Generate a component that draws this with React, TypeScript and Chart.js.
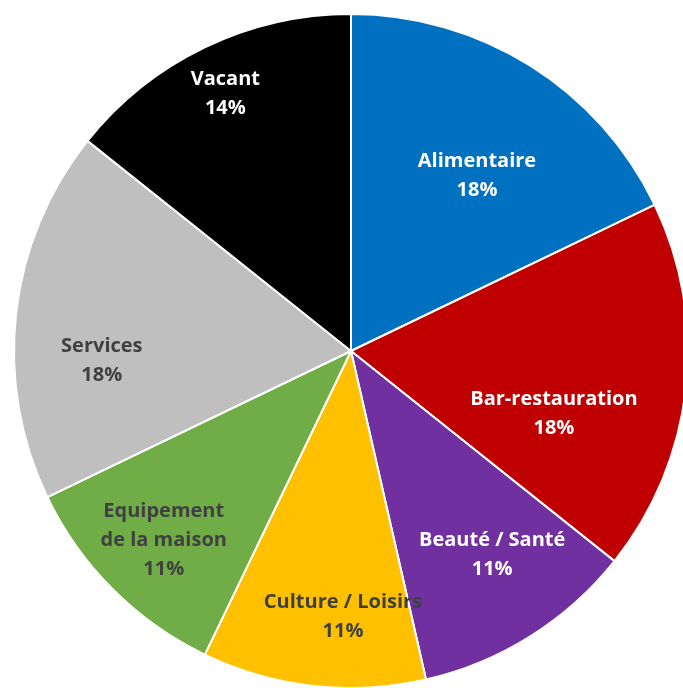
import React, { useEffect, useRef } from "react";
import { Chart, registerables } from "chart.js";

Chart.register(...registerables);

const categories: string[][] = [
  ["Alimentaire"],
  ["Bar-restauration"],
  ["Beauté / Santé"],
  ["Culture / Loisirs"],
  ["Equipement", "de la maison"],
  ["Services"],
  ["Vacant"],
];
const counts: number[] = [5, 5, 3, 3, 3, 5, 4];
const sliceColors: string[] = ["#0070C0", "#C00000", "#7030A0", "#FFC000", "#70AD47", "#BFBFBF", "#000000"];
const labelColors: string[] = ["#FFFFFF", "#FFFFFF", "#FFFFFF", "#404040", "#404040", "#404040", "#FFFFFF"];
// label placement (Excel "best fit"): angle nudge in degrees, radius fraction
const labelAngleNudge: number[] = [3.6, 10.7, -2.6, -4.7, -0.3, -8.7, -0.3];
const labelRadiusFrac: number[] = [0.64, 0.63, 0.735, 0.79, 0.79, 0.74, 0.85];

const FONT = "bold 20px 'Open Sans', 'Liberation Sans', sans-serif";
const LINE_H = 29;

const labelPlugin = {
  id: "pieLabels",
  afterDatasetsDraw(chart: any) {
    const ctx: CanvasRenderingContext2D = chart.ctx;
    const meta = chart.getDatasetMeta(0);
    const total = counts.reduce((a, b) => a + b, 0);
    ctx.save();
    ctx.font = FONT;
    ctx.textAlign = "center";
    ctx.textBaseline = "middle";
    meta.data.forEach((arc: any, i: number) => {
      const { x, y, startAngle, endAngle, outerRadius } = arc.getProps(
        ["x", "y", "startAngle", "endAngle", "outerRadius"],
        true
      );
      const mid = (startAngle + endAngle) / 2 + (labelAngleNudge[i] * Math.PI) / 180;
      const r = outerRadius * labelRadiusFrac[i];
      const cx = x + Math.cos(mid) * r;
      const cy = y + Math.sin(mid) * r;
      const lines = [...categories[i], Math.round((counts[i] / total) * 100) + "%"];
      const top = cy - ((lines.length - 1) * LINE_H) / 2;
      ctx.fillStyle = labelColors[i];
      lines.forEach((ln, k) => ctx.fillText(ln, cx, top + k * LINE_H));
    });
    ctx.restore();
  },
};

export default function App() {
  const ref = useRef<HTMLCanvasElement | null>(null);
  useEffect(() => {
    if (!ref.current) return;
    const chart = new Chart(ref.current, {
      type: "pie",
      data: {
        labels: categories.map((c) => c.join(" ")),
        datasets: [
          {
            data: counts,
            backgroundColor: sliceColors,
            borderColor: "#FFFFFF",
            borderWidth: 2,
          },
        ],
      },
      options: {
        responsive: false,
        animation: false,
        layout: { padding: 13 },
        plugins: {
          legend: { display: false },
          tooltip: { enabled: false },
        },
      },
      plugins: [labelPlugin],
    });
    return () => chart.destroy();
  }, []);
  return (
    <div
      style={{
        position: "fixed",
        left: 0,
        top: 0,
        width: 683,
        height: 688,
        overflow: "hidden",
        background: "#FFFFFF",
      }}
    >
      <canvas ref={ref} width={702} height={702} style={{ display: "block", width: 702, height: 702 }} />
    </div>
  );
}
